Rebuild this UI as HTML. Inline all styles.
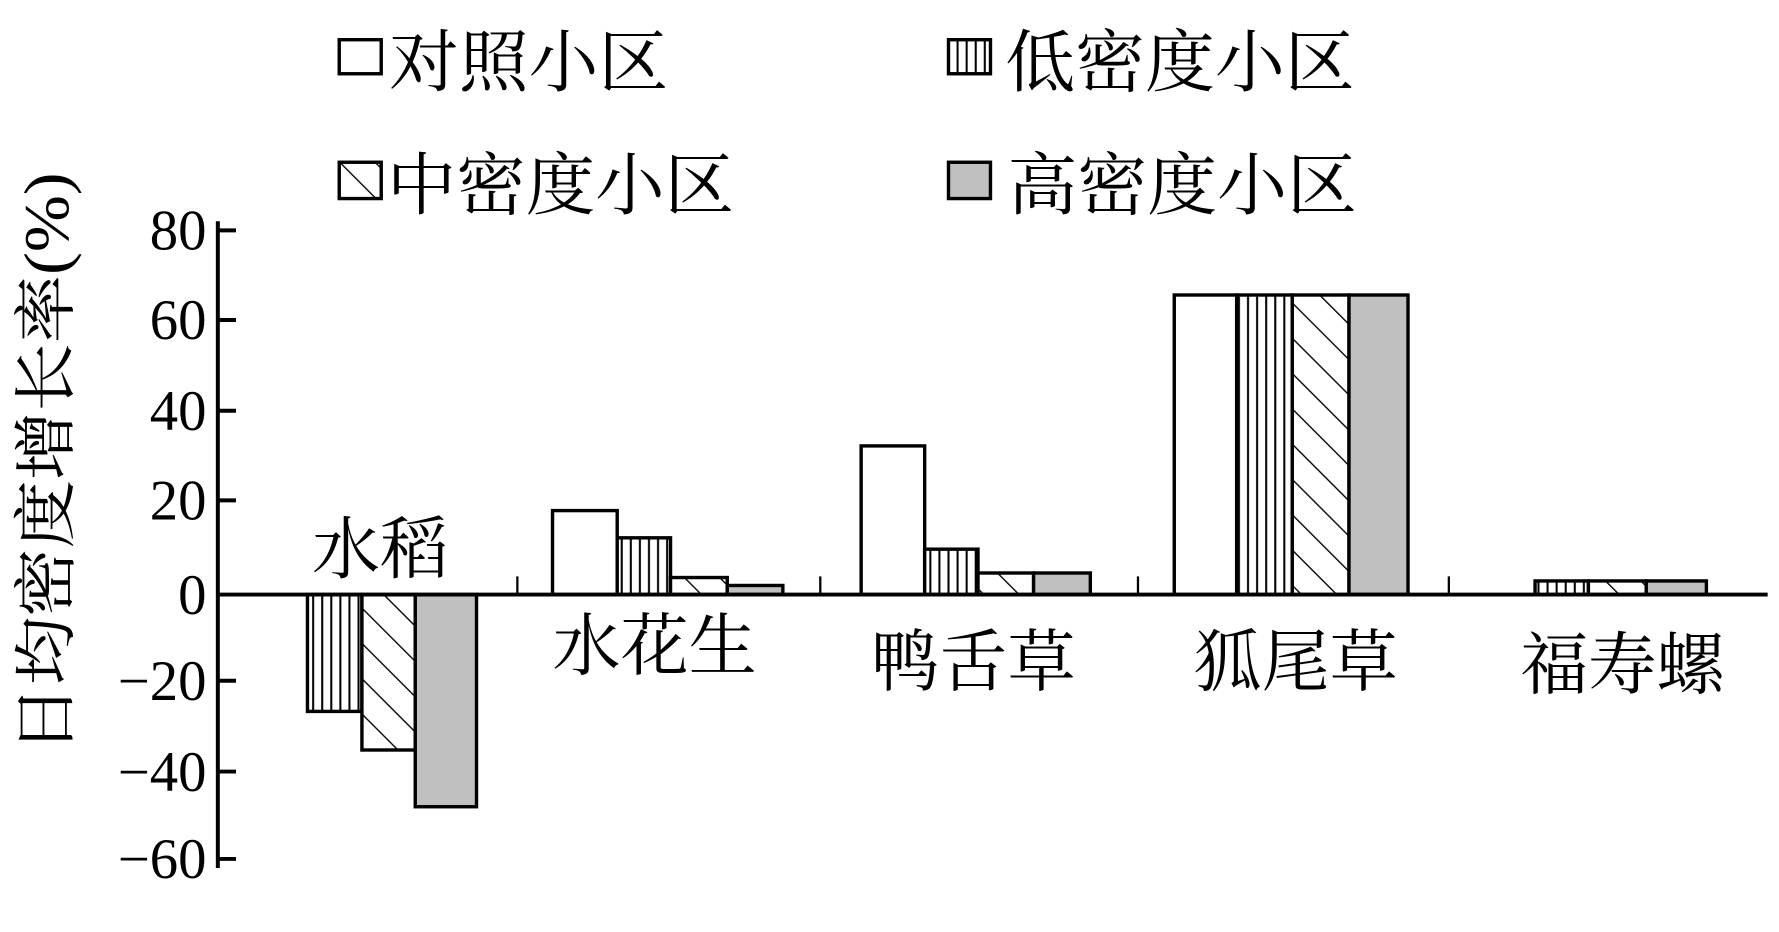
<!DOCTYPE html>
<html><head><meta charset="utf-8"><style>html,body{margin:0;padding:0;background:#fff;}svg{display:block}
.t{font-family:"Liberation Serif","Noto Serif CJK SC","Noto Sans CJK SC",serif;}</style></head>
<body>
<svg width="1779" height="932" viewBox="0 0 1568 821.4" preserveAspectRatio="none" xmlns="http://www.w3.org/2000/svg">
<defs>
<pattern id="v" width="8" height="10" patternUnits="userSpaceOnUse"><rect width="8" height="10" fill="#fff"/><line x1="4" y1="0" x2="4" y2="10" stroke="#000" stroke-width="1.8"/></pattern>
<pattern id="d" width="22" height="22" patternUnits="userSpaceOnUse" patternTransform="rotate(-45)"><rect width="22" height="22" fill="#fff"/><line x1="0" y1="0" x2="0" y2="22" stroke="#000" stroke-width="2.4"/></pattern>
</defs>
<g class="t" fill="#000">
<!-- legend -->
<g stroke="#000" stroke-width="3">
<rect x="299" y="35" width="37" height="30" fill="#fff"/>
<rect x="836" y="35" width="37" height="30" fill="url(#v)"/>
<rect x="299" y="143" width="37" height="32" fill="url(#d)"/>
<rect x="836" y="143" width="37" height="32" fill="#c0c0c0"/>
</g>
<g font-size="60">
<text x="343" y="76" textLength="246" lengthAdjust="spacingAndGlyphs">对照小区</text>
<text x="886" y="76" textLength="308" lengthAdjust="spacingAndGlyphs">低密度小区</text>
<text x="341" y="184" textLength="306" lengthAdjust="spacingAndGlyphs">中密度小区</text>
<text x="888" y="184" textLength="308" lengthAdjust="spacingAndGlyphs">高密度小区</text>
</g>
<!-- y label -->
<text font-size="56" transform="translate(60,408) rotate(-90)" text-anchor="middle" textLength="512" lengthAdjust="spacingAndGlyphs">日均密度增长率(%)</text>
<!-- tick labels -->
<g font-size="50" text-anchor="end">
<text x="182" y="220">80</text>
<text x="182" y="299">60</text>
<text x="182" y="379">40</text>
<text x="182" y="458">20</text>
<text x="182" y="541">0</text>
<text x="182" y="617">−20</text>
<text x="182" y="697">−40</text>
<text x="182" y="774">−60</text>
</g>
<!-- axes -->
<g stroke="#000" stroke-width="3.5">
<line x1="192" y1="195" x2="192" y2="765"/>
<line x1="192" y1="203" x2="208" y2="203"/>
<line x1="192" y1="282" x2="208" y2="282"/>
<line x1="192" y1="362" x2="208" y2="362"/>
<line x1="192" y1="441" x2="208" y2="441"/>
<line x1="192" y1="600" x2="208" y2="600"/>
<line x1="192" y1="680" x2="208" y2="680"/>
<line x1="192" y1="757" x2="208" y2="757"/>
<line x1="456" y1="508" x2="456" y2="524" stroke-width="2"/>
<line x1="723" y1="508" x2="723" y2="524" stroke-width="2"/>
<line x1="1003" y1="508" x2="1003" y2="524" stroke-width="2"/>
<line x1="1277" y1="508" x2="1277" y2="524" stroke-width="2"/>
</g>
<!-- bars -->
<g stroke="#000" stroke-width="3">
<rect x="271" y="524" width="48" height="103" fill="url(#v)"/>
<rect x="319" y="524" width="47" height="137" fill="url(#d)"/>
<rect x="366" y="524" width="54" height="187" fill="#c0c0c0"/>

<rect x="487" y="450" width="57" height="74" fill="#fff"/>
<rect x="544" y="474" width="47" height="50" fill="url(#v)"/>
<rect x="591" y="509" width="50" height="15" fill="url(#d)"/>
<rect x="641" y="516" width="49" height="8" fill="#c0c0c0"/>

<rect x="759" y="393" width="56" height="131" fill="#fff"/>
<rect x="815" y="484" width="47" height="40" fill="url(#v)"/>
<rect x="862" y="505" width="49" height="19" fill="url(#d)"/>
<rect x="911" y="505" width="50" height="19" fill="#c0c0c0"/>

<rect x="1035" y="260" width="55" height="264" fill="#fff"/>
<rect x="1090" y="260" width="49" height="264" fill="url(#v)"/>
<rect x="1139" y="260" width="50" height="264" fill="url(#d)"/>
<rect x="1189" y="260" width="52" height="264" fill="#c0c0c0"/>

<rect x="1353" y="512" width="47" height="12" fill="url(#v)"/>
<rect x="1400" y="512" width="51" height="12" fill="url(#d)"/>
<rect x="1451" y="512" width="53" height="12" fill="#c0c0c0"/>
</g>
<line x1="192" y1="524" x2="1558" y2="524" stroke="#000" stroke-width="3.5"/>
<!-- category labels -->
<g font-size="60" text-anchor="middle">
<text x="335" y="505">水稻</text>
<text x="577" y="590">水花生</text>
<text x="858" y="604">鸭舌草</text>
<text x="1142" y="604">狐尾草</text>
<text x="1430" y="607">福寿螺</text>
</g>
</g>
</svg>
</body></html>
